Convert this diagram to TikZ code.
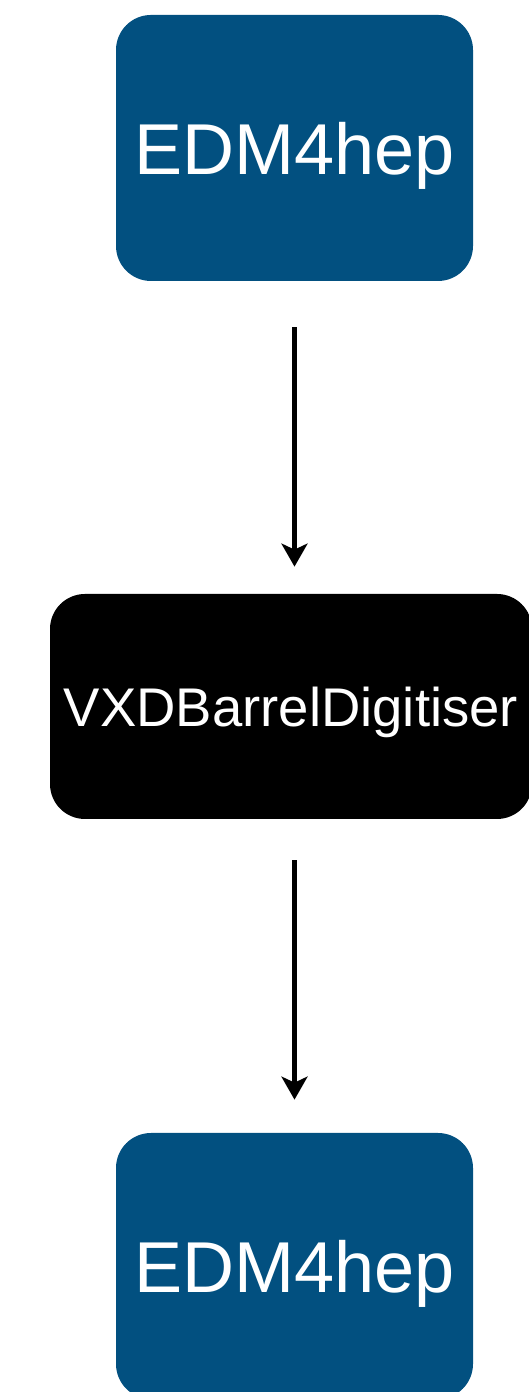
\documentclass[tikz,border=0pt]{standalone}
\usepackage{fontspec}
\setmainfont{Liberation Sans}
\usepackage{xcolor}
\usepackage{tikz}
\usetikzlibrary{arrows.meta}
\definecolor{edmblue}{RGB}{2,80,128}

\begin{document}
\begin{tikzpicture}[
    databox/.style={fill=edmblue, text=white, rounded corners=0.7cm,
      minimum width=7.14cm, minimum height=5.32cm, inner sep=0pt, text depth=0pt,
      font=\fontsize{41}{49}\selectfont},
    procbox/.style={fill=black, text=white, rounded corners=0.7cm,
      minimum width=9.64cm, minimum height=4.5cm, inner sep=0pt, text depth=0pt,
      font=\fontsize{31}{37}\selectfont},
    flow/.style={line width=0.1cm, -{Stealth[length=0.46cm, width=0.52cm, inset=0.12cm]}}
  ]
  \useasboundingbox (0,0) rectangle (10.56,27.84);

  % ---- input / processor / output ----
  \node[databox] (edmin) at (5.89,24.88) {EDM4hep};
  \node[procbox] (digi) at (5.82,13.71) {VXDBarrelDigitiser};
  \node[databox] (edmout) at (5.89,2.52) {EDM4hep};

  % Arrows between boxes (kept vertical)
  \draw[flow, shorten <=0.92cm, shorten >=0.54cm] (edmin.south) -- (edmin.south |- digi.north);
  \draw[flow, shorten <=0.82cm, shorten >=0.66cm] (edmout.north |- digi.south) -- (edmout.north);
\end{tikzpicture}
\end{document}
